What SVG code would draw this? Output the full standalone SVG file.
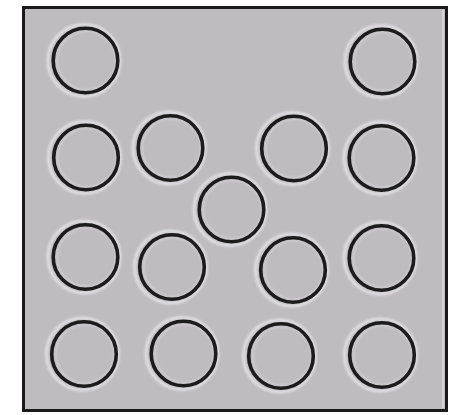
<svg xmlns="http://www.w3.org/2000/svg" width="452" height="415" viewBox="0 0 452 415">
  <defs>
    <style>
      .halo { fill: none; stroke: #ecebee; stroke-width: 3; opacity: 0.75; }
      .ring { fill: none; stroke: #1c1c1c; stroke-width: 3.6; }
      .inner { fill: none; stroke: #dcdbde; stroke-width: 1.5; opacity: 0.7; }
    </style>
    <filter id="soft" x="-20%" y="-20%" width="140%" height="140%">
      <feGaussianBlur stdDeviation="1"/>
    </filter>
    <g id="disc">
      <circle class="halo" cx="-1.5" cy="0" r="36" filter="url(#soft)"/>
      <circle class="inner" cx="1" cy="0" r="29.5" filter="url(#soft)"/>
      <circle class="ring" cx="0" cy="0" r="32.3"/>
    </g>
  </defs>
  <rect x="0" y="0" width="452" height="415" fill="#ffffff"/>
  <g id="frame">
    <rect x="23.5" y="7.5" width="423" height="403" fill="#bebcbf" stroke="#1a1a1a" stroke-width="3"/>
    <line x1="443" y1="10" x2="443" y2="408" stroke="#dddcdf" stroke-width="1.5"/>
  </g>
  <g id="circles">
    <use id="c1" href="#disc" x="85.5" y="60.5"/>
    <use id="c2" href="#disc" x="382.5" y="61.5"/>
    <use id="c3" href="#disc" x="86" y="157.5"/>
    <use id="c4" href="#disc" x="170.5" y="148"/>
    <use id="c5" href="#disc" x="294" y="148.5"/>
    <use id="c6" href="#disc" x="381.5" y="158"/>
    <use id="c7" href="#disc" x="231.5" y="209.5"/>
    <use id="c8" href="#disc" x="85.5" y="257"/>
    <use id="c9" href="#disc" x="172" y="267"/>
    <use id="c10" href="#disc" x="293" y="270"/>
    <use id="c11" href="#disc" x="381.5" y="258"/>
    <use id="c12" href="#disc" x="84" y="354"/>
    <use id="c13" href="#disc" x="183.5" y="353.5"/>
    <use id="c14" href="#disc" x="281" y="356"/>
    <use id="c15" href="#disc" x="382" y="355"/>
  </g>
  <g id="connectors"></g>
</svg>
